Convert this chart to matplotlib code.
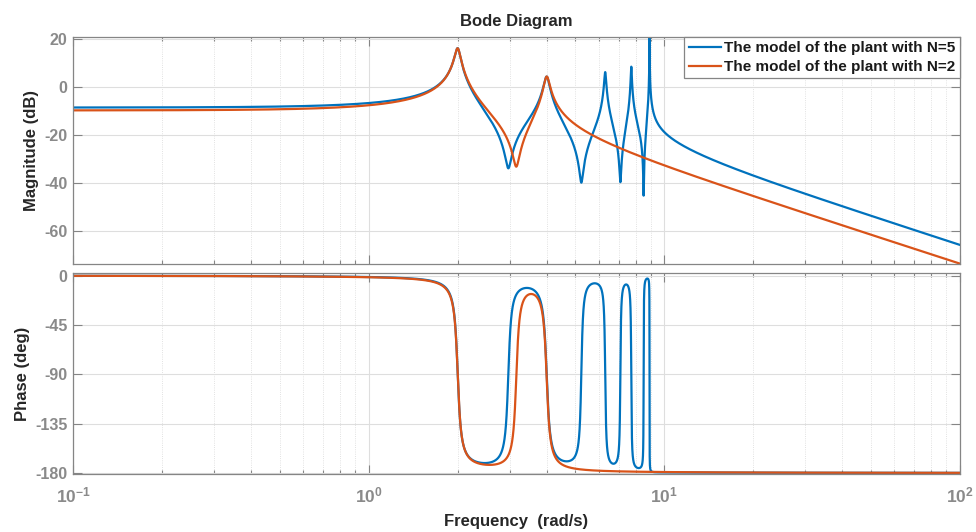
import numpy as np
import matplotlib
matplotlib.use("Agg")
import matplotlib.pyplot as plt
from matplotlib.ticker import LogLocator, FixedLocator, FuncFormatter, NullFormatter

# N=5 model
n5_gain      = 5.03
n5_pole_w    = [2.0, 4.0, 6.31, 7.73, 8.91]        # resonances (rad/s)
n5_pole_zeta = [0.0197, 0.0196, 0.0062, 0.0033, 0.0004]
n5_zero_w    = [2.967, 5.24, 7.10, 8.51]           # anti-resonances (rad/s)
n5_zero_zeta = [0.0176, 0.0105, 0.0044, 0.0013]

# N=2 model
n2_gain      = 2.055
n2_pole_w    = [2.0, 4.0]
n2_pole_zeta = [0.0203, 0.0199]
n2_zero_w    = [3.157]
n2_zero_zeta = [0.019]

freq_range    = [0.1, 100]
mag_ticks     = [20, 0, -20, -40, -60]
phase_ticks   = [0, -45, -90, -135, -180]
series_labels = ["The model of the plant with N=5", "The model of the plant with N=2"]

BLUE, ORANGE = "#0072BD", "#D95319"
GRAY_TXT, GRAY_AX = "#8a8a8a", "#858585"
FONT = "Liberation Sans"

plt.rcParams["font.family"] = [FONT, "DejaVu Sans"]
plt.rcParams["font.weight"] = "bold"
plt.rcParams["axes.unicode_minus"] = False
plt.rcParams["mathtext.fontset"] = "custom"
plt.rcParams["mathtext.rm"] = FONT + ":bold"
plt.rcParams["mathtext.bf"] = FONT + ":bold"


def bode(w, gain, pw, pz, zw, zz):
    s = 1j * w
    h = np.full(w.shape, gain, dtype=complex)
    ph = np.zeros_like(w)
    for wn, z in zip(zw, zz):
        f = s**2 + 2 * z * wn * s + wn**2
        h *= f
        ph += np.angle(f)
    for wn, z in zip(pw, pz):
        f = s**2 + 2 * z * wn * s + wn**2
        h /= f
        ph -= np.angle(f)
    return 20 * np.log10(np.abs(h)), np.degrees(ph)


w = np.logspace(np.log10(freq_range[0]), np.log10(freq_range[1]), 40000)
mag5, ph5 = bode(w, n5_gain, n5_pole_w, n5_pole_zeta, n5_zero_w, n5_zero_zeta)
mag2, ph2 = bode(w, n2_gain, n2_pole_w, n2_pole_zeta, n2_zero_w, n2_zero_zeta)

fig = plt.figure(figsize=(9.76, 5.32), dpi=100)
fig.patch.set_facecolor("white")
ax_m = fig.add_axes([0.0748, 0.5032, 0.9088, 0.4278])
ax_p = fig.add_axes([0.0748, 0.1090, 0.9088, 0.3773])

ax_m.plot(w, mag5, color=BLUE, lw=1.6, label=series_labels[0])
ax_m.plot(w, mag2, color=ORANGE, lw=1.6, label=series_labels[1])
ax_p.plot(w, ph5, color=BLUE, lw=1.6)
ax_p.plot(w, ph2, color=ORANGE, lw=1.6)

for ax in (ax_m, ax_p):
    ax.set_xscale("log")
    ax.set_xlim(freq_range)
    ax.xaxis.set_major_locator(LogLocator(base=10, numticks=10))
    ax.xaxis.set_minor_locator(LogLocator(base=10, subs=np.arange(2, 10), numticks=20))
    ax.xaxis.set_minor_formatter(NullFormatter())
    ax.grid(True, which="major", color="#dedede", lw=0.8, ls="-")
    ax.grid(True, which="minor", axis="x", color="#d8d8d8", lw=0.6, ls=":")
    ax.set_axisbelow(True)
    ax.tick_params(which="both", direction="in", top=True, right=True,
                   colors=GRAY_AX, labelcolor=GRAY_TXT, labelsize=11.5, width=0.8)
    ax.tick_params(which="major", length=6.5, pad=4)
    ax.tick_params(which="minor", length=3.2)
    for sp in ax.spines.values():
        sp.set_color(GRAY_AX)
        sp.set_linewidth(0.9)

ax_m.set_ylim(-74, 20.8)
ax_m.yaxis.set_major_locator(FixedLocator(mag_ticks))
ax_m.tick_params(axis="x", labelbottom=False)
ax_m.set_ylabel("Magnitude (dB)", fontsize=12, fontweight="bold", color="#262626", labelpad=4)
ax_m.set_title("Bode Diagram", fontsize=12, fontweight="bold", color="#262626", pad=7.5)

ax_p.set_ylim(-181, 2.2)
ax_p.yaxis.set_major_locator(FixedLocator(phase_ticks))
ax_p.xaxis.set_major_formatter(FuncFormatter(
    lambda v, pos: r"$\mathbf{10^{%d}}$" % int(round(np.log10(v)))))
ax_p.tick_params(axis="x", which="major", pad=8, labelsize=12.5)
ax_p.set_ylabel("Phase (deg)", fontsize=12, fontweight="bold", color="#262626", labelpad=4)
ax_p.set_xlabel("Frequency  (rad/s)", fontsize=12, fontweight="bold", color="#262626", labelpad=6.5)

leg = ax_m.legend(loc="upper right", borderaxespad=0, fontsize=11, frameon=True,
                  fancybox=False, framealpha=1, edgecolor=GRAY_AX, borderpad=0.3,
                  labelspacing=0.3, handlelength=2.1, handletextpad=0.2)
leg.get_frame().set_linewidth(0.9)
for t in leg.get_texts():
    t.set_color("#1a1a1a")
    t.set_fontweight("bold")

fig.savefig("out.png", dpi=100, facecolor="white")
